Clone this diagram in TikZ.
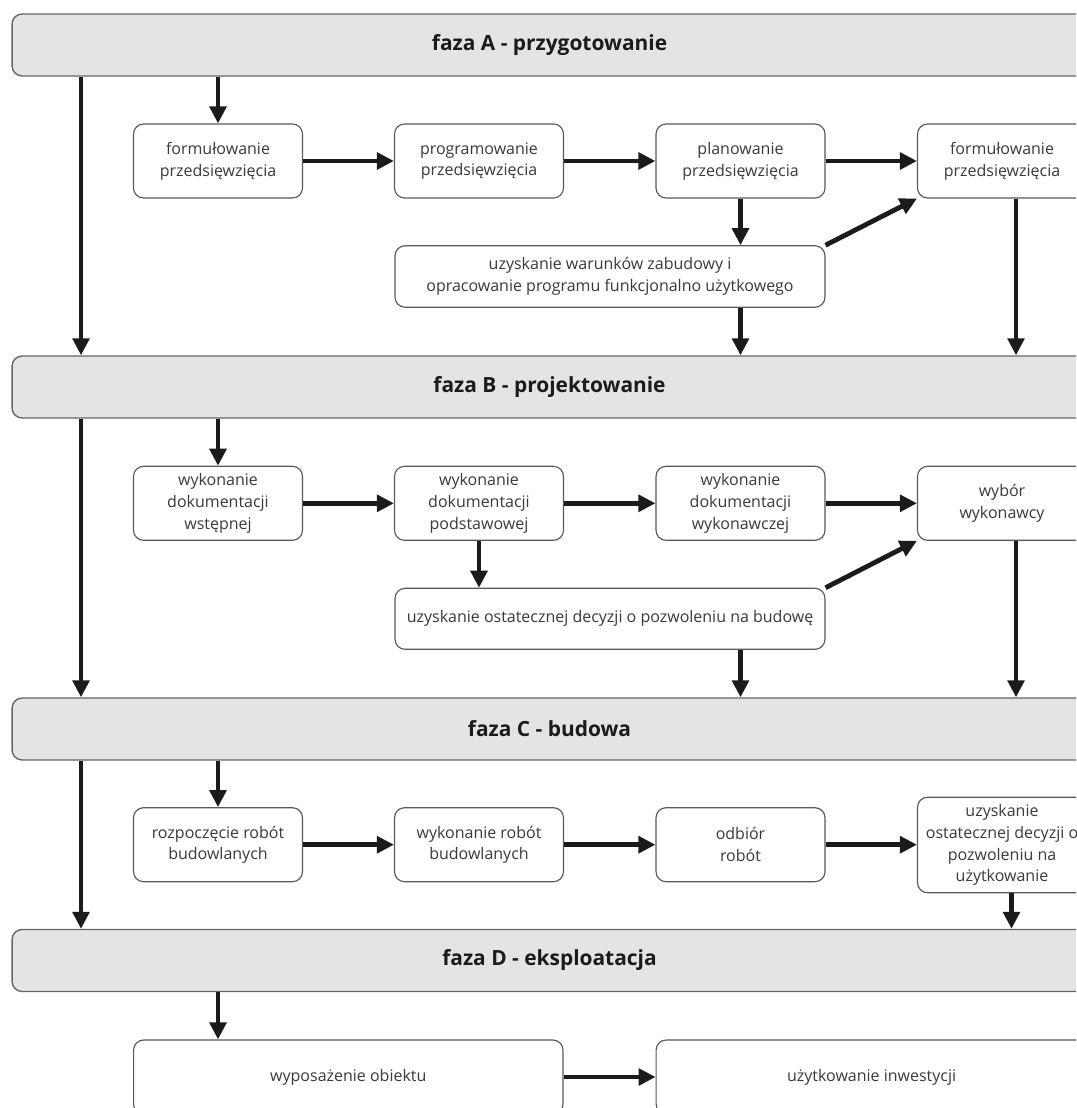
\documentclass[tikz,border=0pt]{standalone}
\usepackage{fontspec}
\setmainfont{Open Sans}
\usetikzlibrary{arrows.meta}
\definecolor{barfill}{HTML}{E4E4E4}
\definecolor{ink}{HTML}{1B1B1B}
\definecolor{txt}{HTML}{3A3A3A}
\begin{document}
\begin{tikzpicture}[x=0.02cm,y=-0.02cm,
        faza/.style={draw=black!60,line width=0.8pt,fill=barfill,rounded corners=0.2cm,
                minimum width=21.5cm,minimum height=1.24cm,inner sep=0pt,
                font=\fontsize{11.9}{14}\selectfont\bfseries,text=ink},
        krok/.style={draw=black!65,line width=0.65pt,fill=white,rounded corners=0.2cm,
                minimum width=3.38cm,minimum height=1.48cm,inner sep=0pt,align=center,
                font=\fontsize{9.1}{12.35}\selectfont,text=txt},
        arr/.style={draw=ink,line width=0.096cm,-{Triangle[length=0.34cm,width=0.33cm]}}]
        \useasboundingbox(0,0)rectangle(1076,1108);
        \fill[white](0,0)rectangle(1076,1108);
        \clip(0,0)rectangle(1076,1108);
        \coordinate(k1)at(218,0);
        \coordinate(L)at(81,0);
        \coordinate(R)at(1016,0);
        \coordinate(R2)at(1011.5,0);
        % fazy
        \node[faza](fazaA)at(549.5,45){faza A - przygotowanie};
        \node[faza](fazaB)at(549.5,387){faza B - projektowanie};
        \node[faza](fazaC)at(549.5,729){faza C - budowa};
        \node[faza](fazaD)at(549.5,960.5){faza D - eksploatacja};
        % faza A
        \node[krok](a1)at(218,161){formułowanie\\przedsięwzięcia};
        \node[krok](a2)at(479,161){programowanie\\przedsięwzięcia};
        \node[krok](a3)at(740.5,161){planowanie\\przedsięwzięcia};
        \node[krok](a4)at(1002,161){formułowanie\\przedsięwzięcia};
        \node[krok,minimum width=8.6cm,minimum height=1.23cm](a5)at(610,276.5)
                {uzyskanie warunków zabudowy i\\opracowanie programu funkcjonalno użytkowego};
        % faza B
        \node[krok](b1)at(218,503.3){wykonanie\\dokumentacji\\wstępnej};
        \node[krok](b2)at(479,503.3){wykonanie\\dokumentacji\\podstawowej};
        \node[krok](b3)at(740.5,503.3){wykonanie\\dokumentacji\\wykonawczej};
        \node[krok](b4)at(1002,503.3){wybór\\wykonawcy};
        \node[krok,minimum width=8.6cm,minimum height=1.22cm](b5)at(610,618.8)
                {uzyskanie ostatecznej decyzji o pozwoleniu na budowę};
        % faza C
        \node[krok](c1)at(218,844.7){rozpoczęcie robót\\budowlanych};
        \node[krok](c2)at(479,844.7){wykonanie robót\\budowlanych};
        \node[krok](c3)at(740.5,844.7){odbiór\\robót};
        \node[krok,minimum height=1.91cm](c4)at(1002,845)
                {uzyskanie\\ostatecznej decyzji o\\pozwoleniu na\\użytkowanie};
        % faza D
        \node[krok,minimum width=8.59cm](d1)at(348.3,1077){wyposażenie obiektu};
        \node[krok,minimum width=8.62cm](d2)at(871.6,1077){użytkowanie inwestycji};
        % strzalki A
        \draw[arr](fazaA.south-|k1)--(a1);
        \draw[arr](fazaA.south-|L)--(fazaB.north-|L);
        \draw[arr](a1)--(a2);
        \draw[arr](a2)--(a3);
        \draw[arr](a3)--(a4);
        \draw[arr](a3)--(a3|-a5.north);
        \draw[arr](a5.north east)--(a4.south west);
        \draw[arr](a5.south-|a3)--(fazaB.north-|a3);
        \draw[arr](a4.south-|R)--(fazaB.north-|R);
        % strzalki B
        \draw[arr](fazaB.south-|k1)--(b1);
        \draw[arr](fazaB.south-|L)--(fazaC.north-|L);
        \draw[arr](b1)--(b2);
        \draw[arr](b2)--(b3);
        \draw[arr](b3)--(b4);
        \draw[arr](b2)--(b2|-b5.north);
        \draw[arr](b5.north east)--(b4.south west);
        \draw[arr](b5.south-|b3)--(fazaC.north-|b3);
        \draw[arr](b4.south-|R)--(fazaC.north-|R);
        % strzalki C
        \draw[arr](fazaC.south-|k1)--(c1);
        \draw[arr](fazaC.south-|L)--(fazaD.north-|L);
        \draw[arr](c1)--(c2);
        \draw[arr](c2)--(c3);
        \draw[arr](c3)--(c3-|c4.west);
        \draw[arr](c4.south-|R2)--(fazaD.north-|R2);
        % strzalki D
        \draw[arr](fazaD.south-|k1)--(k1|-d1.north);
        \draw[arr](d1)--(d2);
\end{tikzpicture}
\end{document}
